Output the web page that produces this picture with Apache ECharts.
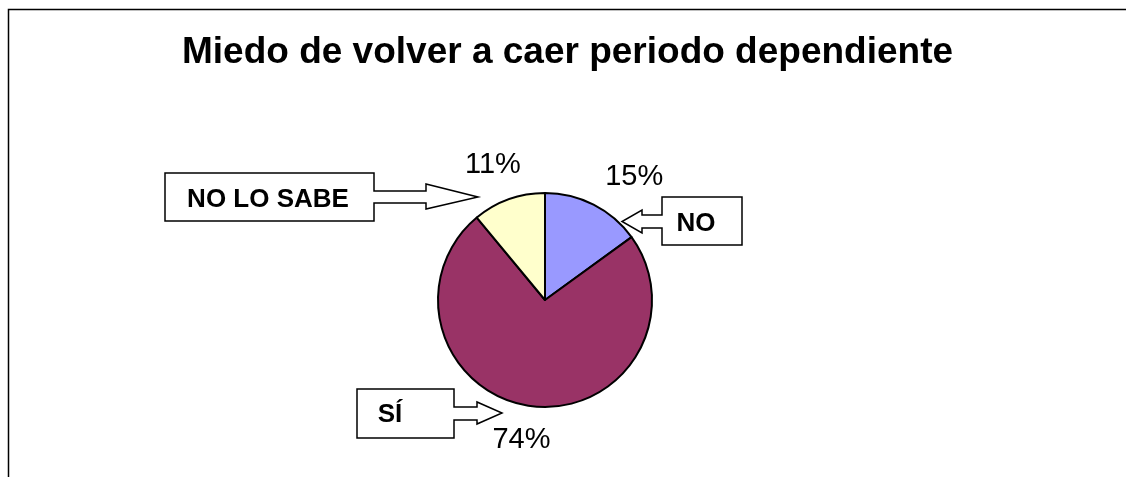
<!DOCTYPE html>
<html lang="es">

<head>
    <meta charset="UTF-8">
    <title>Miedo de volver a caer periodo dependiente</title>
    <style>
        * {
            margin: 0;
            padding: 0;
        }

        body {
            background: #fff;
        }

        #myEcharts {
            width: 1126px;
            height: 477px;
        }
    </style>
</head>

<body>
    <div id="myEcharts"></div>
    <script src="https://cdn.jsdelivr.net/npm/echarts@6/dist/echarts.min.js"></script>
    <script>
        // datos
        var categories = ['NO', 'SÍ', 'NO LO SABE'];
        var percentages = [15, 74, 11];
        var sliceColors = ['#9999FF', '#993366', '#FFFFCC'];

        // ajustes finos de las etiquetas de porcentaje [dx, dy]
        var labelNudge = [[22, 9], [-5, -7], [-2, 4]];

        // llamadas (cuadro + flecha), en el mismo orden que categories
        var callouts = [
            { // NO
                points: [[742, 197], [662, 197], [662, 215], [642, 215], [642, 210], [622, 221.5],
                    [642, 233], [642, 228], [662, 228], [662, 245], [742, 245]],
                text: [696, 224]
            },
            { // SÍ
                points: [[357, 389], [454, 389], [454, 407], [477, 407], [477, 402], [502, 413],
                    [477, 424], [477, 420], [454, 420], [454, 438], [357, 438]],
                text: [390, 415]
            },
            { // NO LO SABE
                points: [[165, 173], [374, 173], [374, 191], [426, 191], [426, 184], [478, 197],
                    [426, 209], [426, 203], [374, 203], [374, 221], [165, 221]],
                text: [268, 200]
            }
        ];

        var font = '"Liberation Sans", Arial, sans-serif';

        var myEcharts = echarts.init(document.getElementById('myEcharts'));

        var pieData = categories.map(function (name, i) {
            return { name: name, value: percentages[i], itemStyle: { color: sliceColors[i] } };
        });
        var labelData = categories.map(function (name, i) {
            return {
                name: name,
                value: percentages[i],
                label: { offset: labelNudge[i] }
            };
        });

        var graphics = [{
            type: 'rect',
            z: -10,
            shape: { x: 8.5, y: 9.5, width: 1300, height: 700 },
            style: { fill: 'none', stroke: '#000', lineWidth: 1.5 }
        }];
        callouts.forEach(function (c, i) {
            graphics.push({
                type: 'polygon',
                shape: { points: c.points },
                style: { fill: '#fff', stroke: '#000', lineWidth: 1.5 }
            });
            graphics.push({
                type: 'text',
                x: c.text[0],
                y: c.text[1],
                style: {
                    text: categories[i],
                    font: 'bold 26px ' + font,
                    fill: '#000',
                    align: 'center',
                    verticalAlign: 'middle'
                }
            });
        });

        var option = {
            backgroundColor: '#fff',
            animation: false,
            title: {
                text: 'Miedo de volver a caer periodo dependiente',
                left: 182,
                top: 34,
                padding: 0,
                textStyle: {
                    fontFamily: font,
                    fontSize: 37,
                    fontWeight: 'bold',
                    color: '#000'
                }
            },
            graphic: graphics,
            series: [
                {
                    name: 'Miedo',
                    type: 'pie',
                    center: [545, 300],
                    radius: 107,
                    startAngle: 90,
                    clockwise: true,
                    silent: true,
                    label: { show: false },
                    labelLine: { show: false },
                    itemStyle: { borderColor: '#000', borderWidth: 2 },
                    data: pieData
                },
                {
                    // serie transparente solo para colocar los porcentajes
                    name: 'etiquetas',
                    type: 'pie',
                    center: [545, 300],
                    radius: [0, 290],
                    startAngle: 90,
                    clockwise: true,
                    silent: true,
                    itemStyle: { color: 'rgba(0,0,0,0)', borderWidth: 0 },
                    label: {
                        show: true,
                        position: 'inside',
                        formatter: '{c}%',
                        fontFamily: font,
                        fontSize: 29,
                        color: '#000',
                        textBorderWidth: 0
                    },
                    labelLine: { show: false },
                    data: labelData
                }
            ]
        };

        myEcharts.setOption(option);
    </script>
</body>

</html>
